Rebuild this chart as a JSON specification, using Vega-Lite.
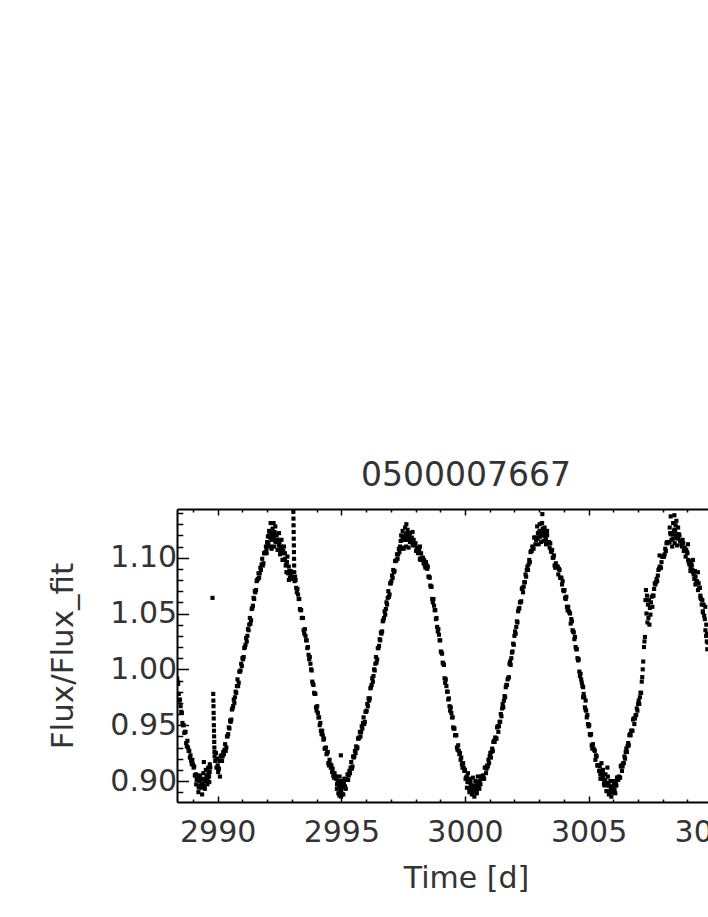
{
"$schema": "https://vega.github.io/schema/vega-lite/v6.json",
"width": 578,
"height": 293,
"autosize": "none",
"padding": {"left": 177, "top": 509, "right": -47, "bottom": 115},
"background": "white",
"config": {"view": {"stroke": null}, "font": "DejaVu Sans"},
"title": {"text": "0500007667", "fontSize": 33, "fontWeight": "normal", "color": "#333", "offset": 15, "font": "DejaVu Sans"},
"data": {"values": [
{"time":2988.36,"flux":0.992},{"time":2988.38,"flux":0.989},
{"time":2988.40,"flux":0.987},{"time":2988.45,"flux":0.972},{"time":2988.50,"flux":0.967},{"time":2988.55,"flux":0.961},{"time":2988.60,"flux":0.950},{"time":2988.65,"flux":0.943},{"time":2988.70,"flux":0.944},{"time":2988.75,"flux":0.931},{"time":2988.80,"flux":0.930},{"time":2988.85,"flux":0.927},{"time":2988.90,"flux":0.923},{"time":2988.95,"flux":0.915},{"time":2989.00,"flux":0.915},{"time":2989.05,"flux":0.913},{"time":2989.10,"flux":0.905},{"time":2989.15,"flux":0.901},{"time":2989.20,"flux":0.904},{"time":2989.25,"flux":0.894},{"time":2989.30,"flux":0.896},{"time":2989.35,"flux":0.897},{"time":2989.40,"flux":0.898},{"time":2989.45,"flux":0.895},{"time":2989.50,"flux":0.901},{"time":2989.55,"flux":0.905},{"time":2989.60,"flux":0.903},{"time":2989.65,"flux":0.904},{"time":2989.70,"flux":0.912},
{"time":2988.425,"flux":0.978},{"time":2988.475,"flux":0.973},{"time":2988.525,"flux":0.962},{"time":2988.575,"flux":0.952},{"time":2988.625,"flux":0.950},{"time":2988.675,"flux":0.944},{"time":2988.725,"flux":0.934},{"time":2988.775,"flux":0.936},{"time":2988.825,"flux":0.927},{"time":2988.875,"flux":0.921},{"time":2988.925,"flux":0.918},{"time":2988.975,"flux":0.919},{"time":2989.025,"flux":0.912},{"time":2989.075,"flux":0.905},{"time":2989.125,"flux":0.906},{"time":2989.175,"flux":0.903},{"time":2989.225,"flux":0.895},{"time":2989.275,"flux":0.900},{"time":2989.325,"flux":0.895},{"time":2989.375,"flux":0.894},{"time":2989.425,"flux":0.895},{"time":2989.475,"flux":0.902},{"time":2989.525,"flux":0.901},{"time":2989.575,"flux":0.900},{"time":2989.625,"flux":0.907},{"time":2989.675,"flux":0.908},
{"time":2989.13,"flux":0.897},{"time":2989.22,"flux":0.890},{"time":2989.28,"flux":0.905},{"time":2989.32,"flux":0.902},{"time":2989.37,"flux":0.888},{"time":2989.42,"flux":0.907},{"time":2989.44,"flux":0.917},{"time":2989.48,"flux":0.893},{"time":2989.52,"flux":0.910},{"time":2989.58,"flux":0.897},{"time":2989.62,"flux":0.912},{"time":2989.66,"flux":0.899},{"time":2989.68,"flux":0.915},
{"time":2989.79,"flux":1.064},
{"time":2989.820,"flux":0.978},{"time":2989.825,"flux":0.972},{"time":2989.830,"flux":0.967},{"time":2989.835,"flux":0.961},{"time":2989.840,"flux":0.956},{"time":2989.845,"flux":0.950},{"time":2989.850,"flux":0.945},{"time":2989.855,"flux":0.940},{"time":2989.860,"flux":0.935},{"time":2989.865,"flux":0.930},{"time":2989.870,"flux":0.926},{"time":2989.875,"flux":0.922},
{"time":2989.90,"flux":0.918},{"time":2989.93,"flux":0.925},{"time":2989.95,"flux":0.912},{"time":2989.97,"flux":0.920},{"time":2990.02,"flux":0.908},{"time":2990.09,"flux":0.904},{"time":2990.12,"flux":0.922},
{"time":2990.00,"flux":0.914},{"time":2990.05,"flux":0.911},{"time":2990.10,"flux":0.918},{"time":2990.15,"flux":0.923},{"time":2990.20,"flux":0.922},{"time":2990.25,"flux":0.924},{"time":2990.30,"flux":0.933},{"time":2990.35,"flux":0.930},{"time":2990.40,"flux":0.940},{"time":2990.45,"flux":0.948},{"time":2990.50,"flux":0.954},{"time":2990.55,"flux":0.955},{"time":2990.60,"flux":0.965},{"time":2990.65,"flux":0.973},{"time":2990.70,"flux":0.975},{"time":2990.75,"flux":0.979},{"time":2990.80,"flux":0.991},{"time":2990.85,"flux":0.988},{"time":2990.90,"flux":0.998},{"time":2990.95,"flux":1.005},{"time":2991.00,"flux":1.010},{"time":2991.05,"flux":1.011},{"time":2991.10,"flux":1.020},{"time":2991.15,"flux":1.028},{"time":2991.20,"flux":1.030},{"time":2991.25,"flux":1.035},{"time":2991.30,"flux":1.046},{"time":2991.35,"flux":1.044},{"time":2991.40,"flux":1.055},{"time":2991.45,"flux":1.064},{"time":2991.50,"flux":1.070},{"time":2991.55,"flux":1.071},{"time":2991.60,"flux":1.080},{"time":2991.65,"flux":1.086},{"time":2991.70,"flux":1.086},{"time":2991.75,"flux":1.089},{"time":2991.80,"flux":1.099},{"time":2991.85,"flux":1.095},{"time":2991.90,"flux":1.104},{"time":2991.95,"flux":1.110},{"time":2992.00,"flux":1.114},{"time":2992.05,"flux":1.113},{"time":2992.10,"flux":1.119},{"time":2992.15,"flux":1.122},{"time":2992.20,"flux":1.119},{"time":2992.25,"flux":1.118},{"time":2992.30,"flux":1.123},{"time":2992.35,"flux":1.114},{"time":2992.40,"flux":1.116},{"time":2992.45,"flux":1.116},{"time":2992.50,"flux":1.114},{"time":2992.55,"flux":1.106},{"time":2992.60,"flux":1.107},{"time":2992.65,"flux":1.106},{"time":2992.70,"flux":1.098},{"time":2992.75,"flux":1.093},{"time":2992.80,"flux":1.096},{"time":2992.85,"flux":1.086},{"time":2992.90,"flux":1.088},{"time":2992.95,"flux":1.088},{"time":2993.00,"flux":1.087},
{"time":2990.025,"flux":0.911},{"time":2990.075,"flux":0.918},{"time":2990.125,"flux":0.918},{"time":2990.175,"flux":0.918},{"time":2990.225,"flux":0.926},{"time":2990.275,"flux":0.928},{"time":2990.325,"flux":0.927},{"time":2990.375,"flux":0.940},{"time":2990.425,"flux":0.942},{"time":2990.475,"flux":0.947},{"time":2990.525,"flux":0.953},{"time":2990.575,"flux":0.964},{"time":2990.625,"flux":0.967},{"time":2990.675,"flux":0.970},{"time":2990.725,"flux":0.980},{"time":2990.775,"flux":0.985},{"time":2990.825,"flux":0.985},{"time":2990.875,"flux":0.998},{"time":2990.925,"flux":0.999},{"time":2990.975,"flux":1.003},{"time":2991.025,"flux":1.009},{"time":2991.075,"flux":1.019},{"time":2991.125,"flux":1.022},{"time":2991.175,"flux":1.025},{"time":2991.225,"flux":1.036},{"time":2991.275,"flux":1.040},{"time":2991.325,"flux":1.041},{"time":2991.375,"flux":1.054},{"time":2991.425,"flux":1.057},{"time":2991.475,"flux":1.063},{"time":2991.525,"flux":1.069},{"time":2991.575,"flux":1.079},{"time":2991.625,"flux":1.081},{"time":2991.675,"flux":1.082},{"time":2991.725,"flux":1.091},{"time":2991.775,"flux":1.094},{"time":2991.825,"flux":1.093},{"time":2991.875,"flux":1.104},{"time":2991.925,"flux":1.105},{"time":2991.975,"flux":1.108},{"time":2992.025,"flux":1.112},{"time":2992.075,"flux":1.120},{"time":2992.125,"flux":1.118},{"time":2992.175,"flux":1.116},{"time":2992.225,"flux":1.122},{"time":2992.275,"flux":1.120},{"time":2992.325,"flux":1.115},{"time":2992.375,"flux":1.120},{"time":2992.425,"flux":1.114},{"time":2992.475,"flux":1.111},{"time":2992.525,"flux":1.108},{"time":2992.575,"flux":1.110},{"time":2992.625,"flux":1.104},{"time":2992.675,"flux":1.098},{"time":2992.725,"flux":1.099},{"time":2992.775,"flux":1.094},{"time":2992.825,"flux":1.087},{"time":2992.875,"flux":1.092},{"time":2992.925,"flux":1.086},{"time":2992.975,"flux":1.083},
{"time":2992.03,"flux":1.119},{"time":2992.08,"flux":1.124},{"time":2992.12,"flux":1.110},{"time":2992.14,"flux":1.131},{"time":2992.18,"flux":1.108},{"time":2992.22,"flux":1.126},{"time":2992.26,"flux":1.131},{"time":2992.28,"flux":1.110},{"time":2992.33,"flux":1.128},{"time":2992.38,"flux":1.121},{"time":2992.42,"flux":1.107},{"time":2992.48,"flux":1.122},{"time":2992.52,"flux":1.103},{"time":2992.58,"flux":1.116},{"time":2992.62,"flux":1.098},{"time":2992.68,"flux":1.110},{"time":2992.72,"flux":1.104},{"time":2992.78,"flux":1.087},{"time":2992.82,"flux":1.101},{"time":2992.88,"flux":1.080},{"time":2992.92,"flux":1.082},{"time":2991.98,"flux":1.104},{"time":2993.02,"flux":1.081},
{"time":2993.060,"flux":1.141},{"time":2993.064,"flux":1.135},{"time":2993.068,"flux":1.129},{"time":2993.072,"flux":1.123},{"time":2993.076,"flux":1.117},{"time":2993.080,"flux":1.111},{"time":2993.084,"flux":1.105},{"time":2993.088,"flux":1.099},{"time":2993.092,"flux":1.093},{"time":2993.096,"flux":1.087},{"time":2993.100,"flux":1.082},{"time":2993.11,"flux":1.079},{"time":2993.13,"flux":1.083},
{"time":2993.15,"flux":1.080},{"time":2993.20,"flux":1.069},{"time":2993.25,"flux":1.067},{"time":2993.30,"flux":1.063},{"time":2993.35,"flux":1.053},{"time":2993.40,"flux":1.046},{"time":2993.45,"flux":1.046},{"time":2993.50,"flux":1.032},{"time":2993.55,"flux":1.030},{"time":2993.60,"flux":1.026},{"time":2993.65,"flux":1.020},{"time":2993.70,"flux":1.009},{"time":2993.75,"flux":1.005},{"time":2993.80,"flux":0.999},{"time":2993.85,"flux":0.987},{"time":2993.90,"flux":0.979},{"time":2993.95,"flux":0.978},{"time":2994.00,"flux":0.963},{"time":2994.05,"flux":0.961},{"time":2994.10,"flux":0.957},{"time":2994.15,"flux":0.952},{"time":2994.20,"flux":0.942},{"time":2994.25,"flux":0.941},{"time":2994.30,"flux":0.938},{"time":2994.35,"flux":0.929},{"time":2994.40,"flux":0.924},{"time":2994.45,"flux":0.926},{"time":2994.50,"flux":0.914},{"time":2994.55,"flux":0.915},{"time":2994.60,"flux":0.914},{"time":2994.65,"flux":0.911},{"time":2994.70,"flux":0.903},{"time":2994.75,"flux":0.904},{"time":2994.80,"flux":0.904},{"time":2994.85,"flux":0.898},{"time":2994.90,"flux":0.895},{"time":2994.95,"flux":0.899},{"time":2995.00,"flux":0.890},{"time":2995.05,"flux":0.894},
{"time":2993.175,"flux":1.073},{"time":2993.225,"flux":1.072},{"time":2993.275,"flux":1.063},{"time":2993.325,"flux":1.054},{"time":2993.375,"flux":1.053},{"time":2993.425,"flux":1.046},{"time":2993.475,"flux":1.035},{"time":2993.525,"flux":1.036},{"time":2993.575,"flux":1.026},{"time":2993.625,"flux":1.019},{"time":2993.675,"flux":1.013},{"time":2993.725,"flux":1.011},{"time":2993.775,"flux":1.000},{"time":2993.825,"flux":0.989},{"time":2993.875,"flux":0.986},{"time":2993.925,"flux":0.978},{"time":2993.975,"flux":0.966},{"time":2994.025,"flux":0.967},{"time":2994.075,"flux":0.957},{"time":2994.125,"flux":0.950},{"time":2994.175,"flux":0.945},{"time":2994.225,"flux":0.945},{"time":2994.275,"flux":0.937},{"time":2994.325,"flux":0.929},{"time":2994.375,"flux":0.930},{"time":2994.425,"flux":0.925},{"time":2994.475,"flux":0.916},{"time":2994.525,"flux":0.919},{"time":2994.575,"flux":0.912},{"time":2994.625,"flux":0.908},{"time":2994.675,"flux":0.905},{"time":2994.725,"flux":0.907},{"time":2994.775,"flux":0.902},{"time":2994.825,"flux":0.897},{"time":2994.875,"flux":0.900},{"time":2994.925,"flux":0.897},{"time":2994.975,"flux":0.890},{"time":2995.025,"flux":0.897},
{"time":2994.82,"flux":0.893},{"time":2994.88,"flux":0.889},{"time":2994.92,"flux":0.887},{"time":2994.93,"flux":0.904},{"time":2994.97,"flux":0.892},{"time":2994.98,"flux":0.923},{"time":2994.99,"flux":0.886},{"time":2995.02,"flux":0.900},{"time":2995.03,"flux":0.888},{"time":2995.08,"flux":0.888},{"time":2995.12,"flux":0.902},{"time":2995.18,"flux":0.893},
{"time":2995.10,"flux":0.898},{"time":2995.15,"flux":0.895},{"time":2995.20,"flux":0.901},{"time":2995.25,"flux":0.906},{"time":2995.30,"flux":0.905},{"time":2995.35,"flux":0.907},{"time":2995.40,"flux":0.917},{"time":2995.45,"flux":0.913},{"time":2995.50,"flux":0.921},{"time":2995.55,"flux":0.927},{"time":2995.60,"flux":0.931},{"time":2995.65,"flux":0.930},{"time":2995.70,"flux":0.938},{"time":2995.75,"flux":0.944},{"time":2995.80,"flux":0.944},{"time":2995.85,"flux":0.947},{"time":2995.90,"flux":0.957},{"time":2995.95,"flux":0.953},{"time":2996.00,"flux":0.962},{"time":2996.05,"flux":0.969},{"time":2996.10,"flux":0.974},{"time":2996.15,"flux":0.974},{"time":2996.20,"flux":0.984},{"time":2996.25,"flux":0.992},{"time":2996.30,"flux":0.994},{"time":2996.35,"flux":0.999},{"time":2996.40,"flux":1.011},{"time":2996.45,"flux":1.009},{"time":2996.50,"flux":1.019},{"time":2996.55,"flux":1.027},{"time":2996.60,"flux":1.033},{"time":2996.65,"flux":1.034},{"time":2996.70,"flux":1.044},{"time":2996.75,"flux":1.052},{"time":2996.80,"flux":1.054},{"time":2996.85,"flux":1.058},{"time":2996.90,"flux":1.070},{"time":2996.95,"flux":1.067},{"time":2997.00,"flux":1.077},{"time":2997.05,"flux":1.084},{"time":2997.10,"flux":1.089},{"time":2997.15,"flux":1.088},{"time":2997.20,"flux":1.097},{"time":2997.25,"flux":1.103},{"time":2997.30,"flux":1.103},{"time":2997.35,"flux":1.105},{"time":2997.40,"flux":1.115},{"time":2997.45,"flux":1.109},{"time":2997.50,"flux":1.116},{"time":2997.55,"flux":1.119},{"time":2997.60,"flux":1.121},{"time":2997.65,"flux":1.116},{"time":2997.70,"flux":1.119},{"time":2997.75,"flux":1.120},{"time":2997.80,"flux":1.115},
{"time":2995.125,"flux":0.895},{"time":2995.175,"flux":0.902},{"time":2995.225,"flux":0.901},{"time":2995.275,"flux":0.901},{"time":2995.325,"flux":0.909},{"time":2995.375,"flux":0.912},{"time":2995.425,"flux":0.911},{"time":2995.475,"flux":0.922},{"time":2995.525,"flux":0.922},{"time":2995.575,"flux":0.925},{"time":2995.625,"flux":0.929},{"time":2995.675,"flux":0.938},{"time":2995.725,"flux":0.939},{"time":2995.775,"flux":0.940},{"time":2995.825,"flux":0.949},{"time":2995.875,"flux":0.952},{"time":2995.925,"flux":0.951},{"time":2995.975,"flux":0.962},{"time":2996.025,"flux":0.963},{"time":2996.075,"flux":0.967},{"time":2996.125,"flux":0.972},{"time":2996.175,"flux":0.983},{"time":2996.225,"flux":0.986},{"time":2996.275,"flux":0.989},{"time":2996.325,"flux":1.000},{"time":2996.375,"flux":1.005},{"time":2996.425,"flux":1.006},{"time":2996.475,"flux":1.019},{"time":2996.525,"flux":1.021},{"time":2996.575,"flux":1.026},{"time":2996.625,"flux":1.032},{"time":2996.675,"flux":1.043},{"time":2996.725,"flux":1.046},{"time":2996.775,"flux":1.049},{"time":2996.825,"flux":1.060},{"time":2996.875,"flux":1.064},{"time":2996.925,"flux":1.065},{"time":2996.975,"flux":1.077},{"time":2997.025,"flux":1.079},{"time":2997.075,"flux":1.082},{"time":2997.125,"flux":1.087},{"time":2997.175,"flux":1.097},{"time":2997.225,"flux":1.098},{"time":2997.275,"flux":1.099},{"time":2997.325,"flux":1.108},{"time":2997.375,"flux":1.110},{"time":2997.425,"flux":1.108},{"time":2997.475,"flux":1.118},{"time":2997.525,"flux":1.116},{"time":2997.575,"flux":1.116},{"time":2997.625,"flux":1.117},{"time":2997.675,"flux":1.122},{"time":2997.725,"flux":1.118},{"time":2997.775,"flux":1.114},
{"time":2997.42,"flux":1.120},{"time":2997.48,"flux":1.124},{"time":2997.52,"flux":1.108},{"time":2997.58,"flux":1.127},{"time":2997.62,"flux":1.110},{"time":2997.63,"flux":1.130},{"time":2997.68,"flux":1.125},{"time":2997.72,"flux":1.109},{"time":2997.78,"flux":1.122},{"time":2997.88,"flux":1.123},{"time":2998.18,"flux":1.110},
{"time":2997.85,"flux":1.118},{"time":2997.90,"flux":1.111},{"time":2997.95,"flux":1.113},{"time":2998.00,"flux":1.113},{"time":2998.05,"flux":1.107},{"time":2998.10,"flux":1.104},{"time":2998.15,"flux":1.108},{"time":2998.20,"flux":1.098},{"time":2998.25,"flux":1.100},{"time":2998.30,"flux":1.100},{"time":2998.35,"flux":1.098},{"time":2998.40,"flux":1.091},{"time":2998.45,"flux":1.093},{"time":2998.50,"flux":1.092},{"time":2998.55,"flux":1.083},{"time":2998.60,"flux":1.075},{"time":2998.65,"flux":1.074},{"time":2998.70,"flux":1.060},{"time":2998.75,"flux":1.057},{"time":2998.80,"flux":1.053},{"time":2998.85,"flux":1.046},{"time":2998.90,"flux":1.034},{"time":2998.95,"flux":1.031},{"time":2999.00,"flux":1.026},{"time":2999.05,"flux":1.015},{"time":2999.10,"flux":1.006},{"time":2999.15,"flux":1.004},{"time":2999.20,"flux":0.988},{"time":2999.25,"flux":0.985},{"time":2999.30,"flux":0.980},{"time":2999.35,"flux":0.974},{"time":2999.40,"flux":0.963},{"time":2999.45,"flux":0.961},{"time":2999.50,"flux":0.957},{"time":2999.55,"flux":0.947},{"time":2999.60,"flux":0.941},{"time":2999.65,"flux":0.941},{"time":2999.70,"flux":0.928},{"time":2999.75,"flux":0.927},{"time":2999.80,"flux":0.925},{"time":2999.85,"flux":0.921},{"time":2999.90,"flux":0.912},{"time":2999.95,"flux":0.912},{"time":3000.00,"flux":0.910},{"time":3000.05,"flux":0.903},{"time":3000.10,"flux":0.899},{"time":3000.15,"flux":0.902},{"time":3000.20,"flux":0.892},{"time":3000.25,"flux":0.895},{"time":3000.30,"flux":0.896},{"time":3000.35,"flux":0.895},{"time":3000.40,"flux":0.890},{"time":3000.45,"flux":0.895},
{"time":2997.875,"flux":1.113},{"time":2997.925,"flux":1.116},{"time":2997.975,"flux":1.111},{"time":2998.025,"flux":1.106},{"time":2998.075,"flux":1.109},{"time":2998.125,"flux":1.106},{"time":2998.175,"flux":1.099},{"time":2998.225,"flux":1.104},{"time":2998.275,"flux":1.098},{"time":2998.325,"flux":1.095},{"time":2998.375,"flux":1.093},{"time":2998.425,"flux":1.096},{"time":2998.475,"flux":1.090},{"time":2998.525,"flux":1.083},{"time":2998.575,"flux":1.082},{"time":2998.625,"flux":1.074},{"time":2998.675,"flux":1.063},{"time":2998.725,"flux":1.063},{"time":2998.775,"flux":1.053},{"time":2998.825,"flux":1.045},{"time":2998.875,"flux":1.038},{"time":2998.925,"flux":1.036},{"time":2998.975,"flux":1.026},{"time":2999.025,"flux":1.016},{"time":2999.075,"flux":1.014},{"time":2999.125,"flux":1.005},{"time":2999.175,"flux":0.992},{"time":2999.225,"flux":0.991},{"time":2999.275,"flux":0.980},{"time":2999.325,"flux":0.973},{"time":2999.375,"flux":0.967},{"time":2999.425,"flux":0.966},{"time":2999.475,"flux":0.957},{"time":2999.525,"flux":0.948},{"time":2999.575,"flux":0.947},{"time":2999.625,"flux":0.941},{"time":2999.675,"flux":0.930},{"time":2999.725,"flux":0.932},{"time":2999.775,"flux":0.924},{"time":2999.825,"flux":0.919},{"time":2999.875,"flux":0.915},{"time":2999.925,"flux":0.916},{"time":2999.975,"flux":0.909},{"time":3000.025,"flux":0.902},{"time":3000.075,"flux":0.904},{"time":3000.125,"flux":0.900},{"time":3000.175,"flux":0.893},{"time":3000.225,"flux":0.898},{"time":3000.275,"flux":0.893},{"time":3000.325,"flux":0.891},{"time":3000.375,"flux":0.891},{"time":3000.425,"flux":0.896},{"time":3000.475,"flux":0.892},
{"time":3000.08,"flux":0.894},{"time":3000.12,"flux":0.907},{"time":3000.18,"flux":0.890},{"time":3000.22,"flux":0.901},{"time":3000.28,"flux":0.888},{"time":3000.32,"flux":0.903},{"time":3000.38,"flux":0.886},{"time":3000.42,"flux":0.900},{"time":3000.48,"flux":0.889},{"time":3000.52,"flux":0.904},{"time":3000.58,"flux":0.893},
{"time":3000.50,"flux":0.897},{"time":3000.55,"flux":0.894},{"time":3000.60,"flux":0.900},{"time":3000.65,"flux":0.904},{"time":3000.70,"flux":0.902},{"time":3000.75,"flux":0.903},{"time":3000.80,"flux":0.912},{"time":3000.85,"flux":0.907},{"time":3000.90,"flux":0.914},{"time":3000.95,"flux":0.919},{"time":3001.00,"flux":0.922},{"time":3001.05,"flux":0.921},{"time":3001.10,"flux":0.929},{"time":3001.15,"flux":0.935},{"time":3001.20,"flux":0.935},{"time":3001.25,"flux":0.938},{"time":3001.30,"flux":0.948},{"time":3001.35,"flux":0.944},{"time":3001.40,"flux":0.953},{"time":3001.45,"flux":0.960},{"time":3001.50,"flux":0.965},{"time":3001.55,"flux":0.966},{"time":3001.60,"flux":0.976},{"time":3001.65,"flux":0.984},{"time":3001.70,"flux":0.986},{"time":3001.75,"flux":0.992},{"time":3001.80,"flux":1.005},{"time":3001.85,"flux":1.004},{"time":3001.90,"flux":1.015},{"time":3001.95,"flux":1.023},{"time":3002.00,"flux":1.030},{"time":3002.05,"flux":1.032},{"time":3002.10,"flux":1.043},{"time":3002.15,"flux":1.052},{"time":3002.20,"flux":1.055},{"time":3002.25,"flux":1.060},{"time":3002.30,"flux":1.072},{"time":3002.35,"flux":1.069},{"time":3002.40,"flux":1.078},{"time":3002.45,"flux":1.085},{"time":3002.50,"flux":1.089},{"time":3002.55,"flux":1.089},{"time":3002.60,"flux":1.098},{"time":3002.65,"flux":1.105},{"time":3002.70,"flux":1.106},{"time":3002.75,"flux":1.109},{"time":3002.80,"flux":1.118},{"time":3002.85,"flux":1.112},{"time":3002.90,"flux":1.118},{"time":3002.95,"flux":1.122},{"time":3003.00,"flux":1.123},{"time":3003.05,"flux":1.119},{"time":3003.10,"flux":1.124},{"time":3003.15,"flux":1.126},{"time":3003.20,"flux":1.121},{"time":3003.25,"flux":1.119},
{"time":3000.525,"flux":0.899},{"time":3000.575,"flux":0.898},{"time":3000.625,"flux":0.897},{"time":3000.675,"flux":0.904},{"time":3000.725,"flux":0.905},{"time":3000.775,"flux":0.902},{"time":3000.825,"flux":0.912},{"time":3000.875,"flux":0.911},{"time":3000.925,"flux":0.913},{"time":3000.975,"flux":0.916},{"time":3001.025,"flux":0.925},{"time":3001.075,"flux":0.926},{"time":3001.125,"flux":0.927},{"time":3001.175,"flux":0.936},{"time":3001.225,"flux":0.939},{"time":3001.275,"flux":0.938},{"time":3001.325,"flux":0.949},{"time":3001.375,"flux":0.949},{"time":3001.425,"flux":0.953},{"time":3001.475,"flux":0.958},{"time":3001.525,"flux":0.969},{"time":3001.575,"flux":0.972},{"time":3001.625,"flux":0.975},{"time":3001.675,"flux":0.986},{"time":3001.725,"flux":0.991},{"time":3001.775,"flux":0.993},{"time":3001.825,"flux":1.007},{"time":3001.875,"flux":1.010},{"time":3001.925,"flux":1.016},{"time":3001.975,"flux":1.022},{"time":3002.025,"flux":1.034},{"time":3002.075,"flux":1.038},{"time":3002.125,"flux":1.042},{"time":3002.175,"flux":1.054},{"time":3002.225,"flux":1.060},{"time":3002.275,"flux":1.061},{"time":3002.325,"flux":1.073},{"time":3002.375,"flux":1.074},{"time":3002.425,"flux":1.078},{"time":3002.475,"flux":1.083},{"time":3002.525,"flux":1.092},{"time":3002.575,"flux":1.094},{"time":3002.625,"flux":1.096},{"time":3002.675,"flux":1.106},{"time":3002.725,"flux":1.110},{"time":3002.775,"flux":1.108},{"time":3002.825,"flux":1.118},{"time":3002.875,"flux":1.116},{"time":3002.925,"flux":1.117},{"time":3002.975,"flux":1.118},{"time":3003.025,"flux":1.124},{"time":3003.075,"flux":1.122},{"time":3003.125,"flux":1.120},{"time":3003.175,"flux":1.124},{"time":3003.225,"flux":1.122},
{"time":3002.92,"flux":1.128},{"time":3002.98,"flux":1.112},{"time":3003.02,"flux":1.130},{"time":3003.08,"flux":1.114},{"time":3003.12,"flux":1.131},{"time":3003.13,"flux":1.139},{"time":3003.18,"flux":1.115},{"time":3003.22,"flux":1.127},{"time":3003.28,"flux":1.112},{"time":3003.32,"flux":1.124},
{"time":3003.30,"flux":1.121},{"time":3003.35,"flux":1.113},{"time":3003.40,"flux":1.114},{"time":3003.45,"flux":1.113},{"time":3003.50,"flux":1.105},{"time":3003.55,"flux":1.100},{"time":3003.60,"flux":1.102},{"time":3003.65,"flux":1.091},{"time":3003.70,"flux":1.092},{"time":3003.75,"flux":1.092},{"time":3003.80,"flux":1.090},{"time":3003.85,"flux":1.082},{"time":3003.90,"flux":1.082},{"time":3003.95,"flux":1.079},{"time":3004.00,"flux":1.070},{"time":3004.05,"flux":1.064},{"time":3004.10,"flux":1.065},{"time":3004.15,"flux":1.053},{"time":3004.20,"flux":1.052},{"time":3004.25,"flux":1.050},{"time":3004.30,"flux":1.045},{"time":3004.35,"flux":1.035},{"time":3004.40,"flux":1.033},{"time":3004.45,"flux":1.029},{"time":3004.50,"flux":1.018},{"time":3004.55,"flux":1.010},{"time":3004.60,"flux":1.009},{"time":3004.65,"flux":0.994},{"time":3004.70,"flux":0.991},{"time":3004.75,"flux":0.985},{"time":3004.80,"flux":0.978},{"time":3004.85,"flux":0.966},{"time":3004.90,"flux":0.963},{"time":3004.95,"flux":0.959},{"time":3005.00,"flux":0.949},{"time":3005.05,"flux":0.942},{"time":3005.10,"flux":0.942},{"time":3005.15,"flux":0.929},{"time":3005.20,"flux":0.929},{"time":3005.25,"flux":0.927},{"time":3005.30,"flux":0.923},{"time":3005.35,"flux":0.914},{"time":3005.40,"flux":0.914},{"time":3005.45,"flux":0.913},{"time":3005.50,"flux":0.906},{"time":3005.55,"flux":0.902},{"time":3005.60,"flux":0.906},{"time":3005.65,"flux":0.896},{"time":3005.70,"flux":0.898},{"time":3005.75,"flux":0.898},{"time":3005.80,"flux":0.896},{"time":3005.85,"flux":0.890},{"time":3005.90,"flux":0.893},{"time":3005.95,"flux":0.895},
{"time":3003.275,"flux":1.116},{"time":3003.325,"flux":1.120},{"time":3003.375,"flux":1.113},{"time":3003.425,"flux":1.109},{"time":3003.475,"flux":1.106},{"time":3003.525,"flux":1.107},{"time":3003.575,"flux":1.100},{"time":3003.625,"flux":1.093},{"time":3003.675,"flux":1.095},{"time":3003.725,"flux":1.092},{"time":3003.775,"flux":1.085},{"time":3003.825,"flux":1.089},{"time":3003.875,"flux":1.082},{"time":3003.925,"flux":1.076},{"time":3003.975,"flux":1.071},{"time":3004.025,"flux":1.071},{"time":3004.075,"flux":1.063},{"time":3004.125,"flux":1.056},{"time":3004.175,"flux":1.056},{"time":3004.225,"flux":1.051},{"time":3004.275,"flux":1.041},{"time":3004.325,"flux":1.043},{"time":3004.375,"flux":1.034},{"time":3004.425,"flux":1.027},{"time":3004.475,"flux":1.020},{"time":3004.525,"flux":1.018},{"time":3004.575,"flux":1.008},{"time":3004.625,"flux":0.998},{"time":3004.675,"flux":0.996},{"time":3004.725,"flux":0.988},{"time":3004.775,"flux":0.975},{"time":3004.825,"flux":0.975},{"time":3004.875,"flux":0.964},{"time":3004.925,"flux":0.957},{"time":3004.975,"flux":0.951},{"time":3005.025,"flux":0.950},{"time":3005.075,"flux":0.941},{"time":3005.125,"flux":0.932},{"time":3005.175,"flux":0.933},{"time":3005.225,"flux":0.928},{"time":3005.275,"flux":0.919},{"time":3005.325,"flux":0.922},{"time":3005.375,"flux":0.914},{"time":3005.425,"flux":0.909},{"time":3005.475,"flux":0.906},{"time":3005.525,"flux":0.908},{"time":3005.575,"flux":0.903},{"time":3005.625,"flux":0.898},{"time":3005.675,"flux":0.901},{"time":3005.725,"flux":0.898},{"time":3005.775,"flux":0.891},{"time":3005.825,"flux":0.896},{"time":3005.875,"flux":0.891},{"time":3005.925,"flux":0.890},{"time":3005.975,"flux":0.890},
{"time":3004.78,"flux":0.984},{"time":3004.88,"flux":0.972},{"time":3005.48,"flux":0.902},{"time":3005.52,"flux":0.916},{"time":3005.58,"flux":0.910},{"time":3005.62,"flux":0.897},{"time":3005.68,"flux":0.906},{"time":3005.72,"flux":0.891},{"time":3005.76,"flux":0.912},{"time":3005.78,"flux":0.904},{"time":3005.82,"flux":0.888},{"time":3005.88,"flux":0.900},{"time":3005.92,"flux":0.886},{"time":3005.98,"flux":0.890},{"time":3006.02,"flux":0.900},{"time":3006.08,"flux":0.889},
{"time":3006.00,"flux":0.895},{"time":3006.05,"flux":0.892},{"time":3006.10,"flux":0.899},{"time":3006.15,"flux":0.903},{"time":3006.20,"flux":0.901},{"time":3006.25,"flux":0.903},{"time":3006.30,"flux":0.913},{"time":3006.35,"flux":0.909},{"time":3006.40,"flux":0.916},{"time":3006.45,"flux":0.922},{"time":3006.50,"flux":0.926},{"time":3006.55,"flux":0.926},{"time":3006.60,"flux":0.934},{"time":3006.65,"flux":0.941},{"time":3006.70,"flux":0.941},{"time":3006.75,"flux":0.945},{"time":3006.80,"flux":0.955},{"time":3006.85,"flux":0.951},{"time":3006.90,"flux":0.959},{"time":3006.95,"flux":0.965},{"time":3007.00,"flux":0.969},{"time":3007.05,"flux":0.969},{"time":3007.10,"flux":0.979},{"time":3007.15,"flux":0.989},
{"time":3006.025,"flux":0.897},{"time":3006.075,"flux":0.896},{"time":3006.125,"flux":0.896},{"time":3006.175,"flux":0.903},{"time":3006.225,"flux":0.904},{"time":3006.275,"flux":0.903},{"time":3006.325,"flux":0.914},{"time":3006.375,"flux":0.913},{"time":3006.425,"flux":0.916},{"time":3006.475,"flux":0.920},{"time":3006.525,"flux":0.929},{"time":3006.575,"flux":0.931},{"time":3006.625,"flux":0.932},{"time":3006.675,"flux":0.942},{"time":3006.725,"flux":0.945},{"time":3006.775,"flux":0.945},{"time":3006.825,"flux":0.956},{"time":3006.875,"flux":0.956},{"time":3006.925,"flux":0.959},{"time":3006.975,"flux":0.963},{"time":3007.025,"flux":0.972},{"time":3007.075,"flux":0.975},{"time":3007.125,"flux":0.979},
{"time":3007.17,"flux":0.993},{"time":3007.19,"flux":1.000},{"time":3007.21,"flux":1.007},{"time":3007.24,"flux":1.020},{"time":3007.26,"flux":1.025},{"time":3007.28,"flux":1.029},
{"time":3007.30,"flux":1.062},{"time":3007.32,"flux":1.071},{"time":3007.34,"flux":1.050},{"time":3007.36,"flux":1.066},{"time":3007.38,"flux":1.042},{"time":3007.40,"flux":1.058},{"time":3007.42,"flux":1.046},{"time":3007.44,"flux":1.062},{"time":3007.46,"flux":1.040},{"time":3007.48,"flux":1.055},{"time":3007.50,"flux":1.049},{"time":3007.52,"flux":1.060},{"time":3007.55,"flux":1.065},{"time":3007.58,"flux":1.056},
{"time":3007.60,"flux":1.066},{"time":3007.65,"flux":1.072},{"time":3007.70,"flux":1.076},{"time":3007.75,"flux":1.081},{"time":3007.80,"flux":1.084},{"time":3007.85,"flux":1.090},{"time":3007.90,"flux":1.091},{"time":3007.95,"flux":1.096},{"time":3008.00,"flux":1.101},{"time":3008.05,"flux":1.101},{"time":3008.10,"flux":1.108},{"time":3008.15,"flux":1.113},{"time":3008.20,"flux":1.113},{"time":3008.25,"flux":1.114},{"time":3008.30,"flux":1.122},{"time":3008.35,"flux":1.116},{"time":3008.40,"flux":1.121},{"time":3008.45,"flux":1.124},{"time":3008.50,"flux":1.124},{"time":3008.55,"flux":1.118},{"time":3008.60,"flux":1.121},{"time":3008.65,"flux":1.121},{"time":3008.70,"flux":1.115},{"time":3008.75,"flux":1.112},{"time":3008.80,"flux":1.116},{"time":3008.85,"flux":1.106},{"time":3008.90,"flux":1.108},{"time":3008.95,"flux":1.107},{"time":3009.00,"flux":1.104},{"time":3009.05,"flux":1.096},{"time":3009.10,"flux":1.097},{"time":3009.15,"flux":1.096},{"time":3009.20,"flux":1.089},{"time":3009.25,"flux":1.085},{"time":3009.30,"flux":1.088},{"time":3009.35,"flux":1.077},{"time":3009.40,"flux":1.078},{"time":3009.45,"flux":1.077},{"time":3009.50,"flux":1.073},{"time":3009.55,"flux":1.063},{"time":3009.60,"flux":1.062},{"time":3009.65,"flux":1.058},{"time":3009.70,"flux":1.045},{"time":3009.75,"flux":1.030},{"time":3009.78,"flux":1.025},{"time":3009.80,"flux":1.018},{"time":3009.82,"flux":1.024},
{"time":3007.625,"flux":1.066},{"time":3007.675,"flux":1.077},{"time":3007.725,"flux":1.078},{"time":3007.775,"flux":1.079},{"time":3007.825,"flux":1.089},{"time":3007.875,"flux":1.092},{"time":3007.925,"flux":1.091},{"time":3007.975,"flux":1.101},{"time":3008.025,"flux":1.101},{"time":3008.075,"flux":1.103},{"time":3008.125,"flux":1.106},{"time":3008.175,"flux":1.114},{"time":3008.225,"flux":1.114},{"time":3008.275,"flux":1.114},{"time":3008.325,"flux":1.121},{"time":3008.375,"flux":1.121},{"time":3008.425,"flux":1.117},{"time":3008.475,"flux":1.125},{"time":3008.525,"flux":1.120},{"time":3008.575,"flux":1.118},{"time":3008.625,"flux":1.117},{"time":3008.675,"flux":1.120},{"time":3008.725,"flux":1.115},{"time":3008.775,"flux":1.110},{"time":3008.825,"flux":1.113},{"time":3008.875,"flux":1.109},{"time":3008.925,"flux":1.101},{"time":3008.975,"flux":1.105},{"time":3009.025,"flux":1.098},{"time":3009.075,"flux":1.094},{"time":3009.125,"flux":1.091},{"time":3009.175,"flux":1.093},{"time":3009.225,"flux":1.087},{"time":3009.275,"flux":1.081},{"time":3009.325,"flux":1.083},{"time":3009.375,"flux":1.079},{"time":3009.425,"flux":1.071},{"time":3009.475,"flux":1.073},{"time":3009.525,"flux":1.064},{"time":3009.575,"flux":1.058},{"time":3009.625,"flux":1.051},{"time":3009.675,"flux":1.048},{"time":3009.725,"flux":1.035},
{"time":3007.87,"flux":1.102},{"time":3008.28,"flux":1.127},{"time":3008.32,"flux":1.137},{"time":3008.38,"flux":1.110},{"time":3008.42,"flux":1.131},{"time":3008.47,"flux":1.138},{"time":3008.48,"flux":1.113},{"time":3008.52,"flux":1.129},{"time":3008.55,"flux":1.133},{"time":3008.58,"flux":1.111},{"time":3008.62,"flux":1.127},{"time":3009.02,"flux":1.112},{"time":3009.12,"flux":1.088},{"time":3009.22,"flux":1.098},{"time":3009.32,"flux":1.076},{"time":3009.42,"flux":1.087},{"time":3009.52,"flux":1.066},{"time":3009.62,"flux":1.052},{"time":3009.72,"flux":1.056},{"time":3009.76,"flux":1.040},{"time":3009.79,"flux":1.032}
]},
"layer": [
{
"mark": {"type": "square", "size": 17, "color": "black", "opacity": 1, "clip": true},
"encoding": {
"x": {"field": "time", "type": "quantitative", "scale": {"domain": [2988.354, 3011.73], "nice": false, "zero": false},
"axis": {"orient": "bottom", "values": [2990, 2995, 3000, 3005, 3010], "format": "d", "tickSize": -6, "tickWidth": 1.5, "tickColor": "black", "domainColor": "black", "domainWidth": 2, "labelFontSize": 30, "labelColor": "#333", "labelPadding": 21, "labelFlush": false, "labelOverlap": false, "labelBound": false, "grid": false, "title": "Time [d]", "titleFontSize": 30, "titleFontWeight": "normal", "titleColor": "#333", "titleY": 85, "titleBaseline": "alphabetic", "titleAlign": "center"}},
"y": {"field": "flux", "type": "quantitative", "scale": {"domain": [0.8812, 1.1436], "nice": false, "zero": false},
"axis": {"orient": "left", "values": [0.9, 0.95, 1.0, 1.05, 1.1], "format": ".2f", "tickSize": -11.6, "tickWidth": 1.5, "tickColor": "black", "domainColor": "black", "domainWidth": 2, "labelFontSize": 30, "labelColor": "#333", "labelPadding": 12, "labelOverlap": false, "labelBound": false, "labelFlush": false, "grid": false, "title": "Flux/Flux_fit", "titleFontSize": 31, "titleFontWeight": "normal", "titleColor": "#333", "titleAngle": -90, "titleX": -105, "titleY": 146.5, "titleBaseline": "alphabetic", "titleAlign": "center"}}
}
},
{
"transform": [{"filter": "datum.time < 2988.39"}],
"mark": {"type": "point", "opacity": 0},
"encoding": {
"x": {"field": "time", "type": "quantitative", "scale": {"domain": [2988.354, 3011.73], "nice": false, "zero": false},
"axis": {"orient": "bottom", "values": [2989, 2991, 2992, 2993, 2994, 2996, 2997, 2998, 2999, 3001, 3002, 3003, 3004, 3006, 3007, 3008, 3009, 3011], "tickSize": -3, "tickWidth": 1.5, "tickColor": "black", "labels": false, "domain": false, "grid": false, "title": null}},
"y": {"field": "flux", "type": "quantitative", "scale": {"domain": [0.8812, 1.1436], "nice": false, "zero": false},
"axis": {"orient": "left", "values": [0.89, 0.91, 0.92, 0.93, 0.94, 0.96, 0.97, 0.98, 0.99, 1.01, 1.02, 1.03, 1.04, 1.06, 1.07, 1.08, 1.09, 1.11, 1.12, 1.13, 1.14], "tickSize": -5.8, "tickWidth": 1.5, "tickColor": "black", "labels": false, "domain": false, "grid": false, "title": null}}
}
},
{
"transform": [{"filter": "datum.time < 2988.39"}],
"mark": {"type": "point", "opacity": 0},
"encoding": {
"x": {"field": "time", "type": "quantitative", "scale": {"domain": [2988.354, 3011.73], "nice": false, "zero": false},
"axis": {"orient": "top", "values": [2990, 2995, 3000, 3005, 3010], "tickSize": -6, "tickWidth": 1.5, "tickColor": "black", "domainColor": "black", "domainWidth": 2, "labels": false, "grid": false, "title": null}},
"y": {"field": "flux", "type": "quantitative", "scale": {"domain": [0.8812, 1.1436], "nice": false, "zero": false}, "axis": null}
}
},
{
"transform": [{"filter": "datum.time < 2988.39"}],
"mark": {"type": "point", "opacity": 0},
"encoding": {
"x": {"field": "time", "type": "quantitative", "scale": {"domain": [2988.354, 3011.73], "nice": false, "zero": false},
"axis": {"orient": "top", "values": [2989, 2991, 2992, 2993, 2994, 2996, 2997, 2998, 2999, 3001, 3002, 3003, 3004, 3006, 3007, 3008, 3009, 3011], "tickSize": -3, "tickWidth": 1.5, "tickColor": "black", "labels": false, "domain": false, "grid": false, "title": null}},
"y": {"field": "flux", "type": "quantitative", "scale": {"domain": [0.8812, 1.1436], "nice": false, "zero": false}, "axis": null}
}
}
],
"resolve": {"axis": {"x": "independent", "y": "independent"}}
}
